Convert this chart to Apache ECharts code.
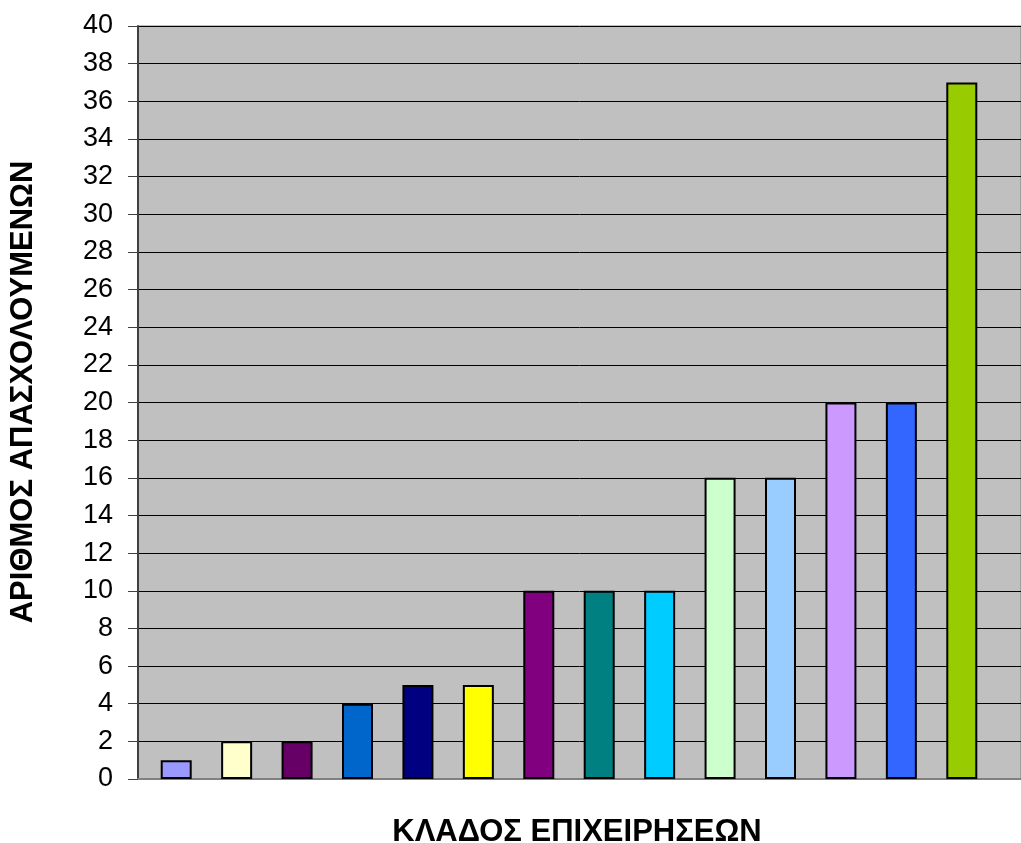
<!DOCTYPE html>
<html><head><meta charset="utf-8">
<script src="https://cdn.jsdelivr.net/npm/echarts@6/dist/echarts.min.js"></script>
<style>html,body{margin:0;padding:0;background:#fff;overflow:hidden}#c{width:1021px;height:843px}</style>
</head><body><div id="c"></div>
<script>
const categories = ['1','2','3','4','5','6','7','8','9','10','11','12','13','14'];
const values = [1,2,2,4,5,5,10,10,10,16,16,20,20,37];
const colors = ['#9999FF','#FFFFCC','#660066','#0066CC','#000080','#FFFF00','#800080','#008080','#00CCFF','#CCFFCC','#99CCFF','#CC99FF','#3366FF','#99CC00'];
const yTicks = {min:0,max:40,interval:2};
const yTitle = 'ΑΡΙΘΜΟΣ ΑΠΑΣΧΟΛΟΥΜΕΝΩΝ';
const xTitle = 'ΚΛΑΔΟΣ ΕΠΙΧΕΙΡΗΣΕΩΝ';

const titleFont = 'bold 31px "Liberation Sans"';
const chart = echarts.init(document.getElementById('c'), null, {renderer:'canvas'});
chart.setOption({
  animation:false,
  graphic:[
    {type:'text',id:'xt',x:577,y:832,style:{text:xTitle,font:titleFont,fill:'#000',align:'center',verticalAlign:'middle'}},
    {type:'text',id:'yt',x:23,y:392,rotation:Math.PI/2,style:{text:yTitle,font:titleFont,fill:'#000',align:'center',verticalAlign:'middle'}}
  ],
  grid:[
    {left:138,right:0,top:26,bottom:64,show:true,backgroundColor:'#C0C0C0',borderColor:'#808080',borderWidth:1,outerBoundsMode:'none',containLabel:false},
    {left:146,right:29,top:26,bottom:64,outerBoundsMode:'none',containLabel:false}
  ],
  xAxis:[
    {gridIndex:0,type:'category',data:[''],
      axisLine:{lineStyle:{color:'#808080',width:2}},axisTick:{show:false},axisLabel:{show:false}},
    {gridIndex:1,type:'category',data:categories,
      axisLine:{show:false},axisTick:{show:false},axisLabel:{show:false}}
  ],
  yAxis:[
    {gridIndex:0,type:'value',min:yTicks.min,max:yTicks.max,interval:yTicks.interval,
      axisLine:{show:true,lineStyle:{color:'#404040',width:2}},
      axisTick:{show:true,length:10,lineStyle:{color:'#404040',width:1}},
      axisLabel:{fontFamily:'Liberation Sans',fontSize:27,color:'#000',margin:25},
      splitLine:{lineStyle:{color:'#000',width:1}}},
    {gridIndex:1,type:'value',min:yTicks.min,max:yTicks.max,interval:yTicks.interval,
      axisLine:{show:false},axisTick:{show:false},axisLabel:{show:false},splitLine:{show:false}}
  ],
  series:[{type:'bar',xAxisIndex:1,yAxisIndex:1,barWidth:31,
    data:values.map((v,i)=>({value:v,itemStyle:{color:colors[i]}})),
    itemStyle:{borderColor:'#000',borderWidth:2}}]
});
</script></body></html>
